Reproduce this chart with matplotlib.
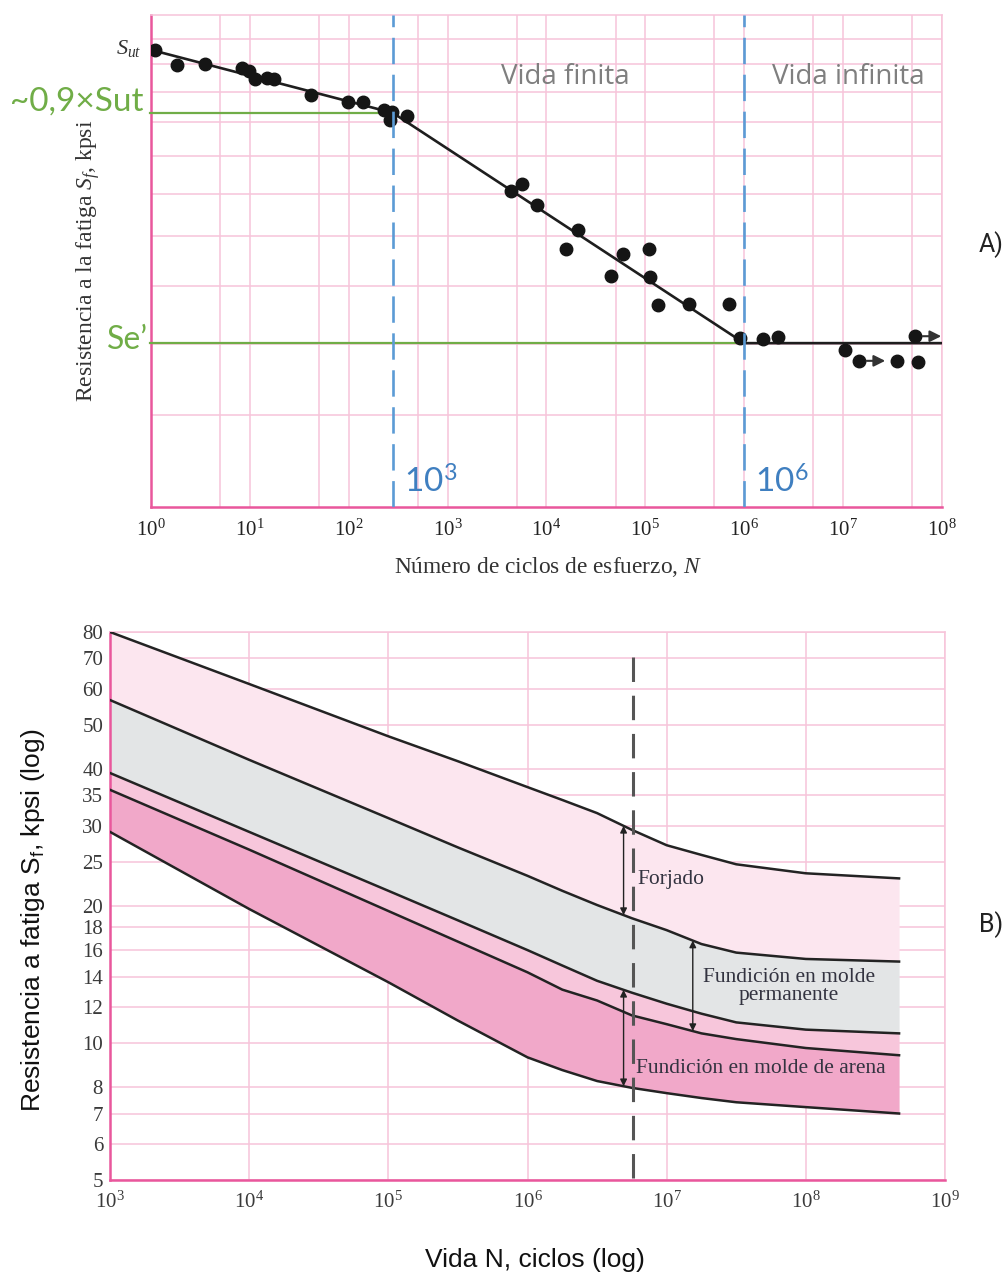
import numpy as np
import matplotlib
matplotlib.use("Agg")
import matplotlib.pyplot as plt
from matplotlib.ticker import LogFormatterMathtext, NullFormatter, FixedLocator
from matplotlib.transforms import blended_transform_factory

plt.rcParams["mathtext.fontset"] = "custom"
plt.rcParams["mathtext.rm"] = "Liberation Serif"
plt.rcParams["mathtext.it"] = "Liberation Serif:italic"
plt.rcParams["mathtext.default"] = "regular"

# ── A) ensayos S-N (kpsi; el eje y no lleva valores en el original) ──
ensayo_N = [1.1, 1.83, 3.52, 8.3, 9.8, 11.3, 14.9, 17.5, 41.5, 98, 139, 227, 261, 273, 388,
            4365, 5640, 8000, 20750, 15700, 59200, 108000, 44800, 111000, 134000, 275000, 698000,
            903000, 1.54e6, 2.19e6, 1.04e7, 1.44e7, 3.49e7, 5.69e7, 5.31e7]
ensayo_S = [125.5, 119.7, 120.1, 118.6, 117.4, 114.5, 114.9, 114.5, 109.0, 106.6, 106.6, 103.9, 100.7, 103.3, 102.0,
            80.7, 82.5, 77.2, 71.4, 67.3, 66.2, 67.3, 61.8, 61.6, 56.4, 56.6, 56.6,
            50.9, 50.7, 51.1, 49.0, 47.4, 47.4, 47.2, 51.2]
sin_falla = [31, 33, 34]          # índices con flecha (no fallaron)
curva_N = [1, 280, 1e6, 1e8]
curva_S = [125.5, 103.0, 50.1, 50.1]
S_ut, S_09, S_e = 125.5, 103.0, 50.1
N_finita, N_infinita = 280, 1e6
gridA_y = [40, 50, 60, 70, 80, 90, 100, 110, 120, 130]

# ── B) bandas de fatiga por proceso ──
vida_exp = [3, 4, 5, 5.5, 6, 6.25, 6.5, 6.75, 7, 7.25, 7.5, 8, 8.67]
forjado_sup = [80, 61.5, 47.2, 41.6, 36.5, 34.2, 32.0, 29.4, 27.2, 25.9, 24.7, 23.6, 23.0]
forjado_inf = [56.7, 41.9, 31.2, 26.9, 23.3, 21.6, 20.1, 18.8, 17.7, 16.5, 15.8, 15.3, 15.1]
permanente_inf = [39.2, 29.1, 21.6, 18.6, 16.0, 14.8, 13.7, 12.9, 12.2, 11.6, 11.1, 10.7, 10.5]
arena_sup = [36.0, 26.6, 19.5, 16.7, 14.3, 13.1, 12.4, 11.5, 11.0, 10.5, 10.2, 9.75, 9.4]
arena_inf = [29.1, 19.7, 13.6, 11.2, 9.3, 8.72, 8.25, 7.97, 7.76, 7.57, 7.41, 7.23, 7.0]
yticksB = [5, 6, 7, 8, 10, 12, 14, 16, 18, 20, 25, 30, 35, 40, 50, 60, 70, 80]
N_guia = 5.7e6
N_flecha_izq, N_flecha_der = 4.9e6, 1.54e7

GRID = "#f7c4da"
EJE = "#e9579c"
SERIF = ["Liberation Serif", "DejaVu Serif"]
SANS = ["Liberation Sans", "DejaVu Sans"]
VERDE = "#70ad47"
AZUL = "#5b9bd5"

fig = plt.figure(figsize=(10.05, 12.75), dpi=100)

# ================= A =================
ax = fig.add_axes([0.1502, 0.6024, 0.7871, 0.3859])
ax.set_xscale("log"); ax.set_yscale("log")
ax.set_xlim(1, 1e8); ax.set_ylim(30, 140)
ax.xaxis.set_major_locator(FixedLocator([10.0 ** k for k in range(9)]))
ax.xaxis.set_major_formatter(LogFormatterMathtext())
ax.xaxis.set_minor_locator(FixedLocator([5 * 10.0 ** k for k in range(8)]))
ax.xaxis.set_minor_formatter(NullFormatter())
ax.yaxis.set_major_locator(FixedLocator(gridA_y))
ax.yaxis.set_minor_locator(FixedLocator([]))
ax.yaxis.set_major_formatter(NullFormatter())
ax.tick_params(which="both", length=0)
ax.tick_params(axis="x", pad=9, labelsize=15, labelcolor="#222222", labelfontfamily="Liberation Serif")
ax.grid(True, which="both", color=GRID, lw=1.1)
ax.set_axisbelow(True)
for s in ("top", "right"):
    ax.spines[s].set_color(GRID); ax.spines[s].set_linewidth(1.1)
for s in ("left", "bottom"):
    ax.spines[s].set_color(EJE); ax.spines[s].set_linewidth(1.8)

ax.plot([0.97, N_finita], [S_09, S_09], color=VERDE, lw=1.6, zorder=3, clip_on=False)
ax.plot([0.97, N_infinita], [S_e, S_e], color=VERDE, lw=1.6, zorder=3, clip_on=False)
ax.plot(curva_N, curva_S, color="#1e1e1e", lw=1.9, zorder=4)
ax.plot(ensayo_N, ensayo_S, "o", color="#151515", ms=9, zorder=5)
for i in sin_falla:
    ax.annotate("", xy=(ensayo_N[i] * 1.85, ensayo_S[i]), xytext=(ensayo_N[i] * 1.2, ensayo_S[i]),
                arrowprops=dict(arrowstyle="-|>", color="#333333", lw=1.5, mutation_scale=17,
                                shrinkA=0, shrinkB=0), zorder=5)
for xv in (N_finita, N_infinita):
    ax.axvline(xv, color=AZUL, lw=1.9, ls=(0, (10, 4)), zorder=6)

bt = blended_transform_factory(ax.transData, ax.transAxes)
ax.text(10 ** 4.19, 0.874, "Vida finita", transform=bt, ha="center", va="center",
        fontsize=20, color="#7f7f7f", family=["Open Sans", "DejaVu Sans"])
ax.text(10 ** 7.05, 0.874, "Vida infinita", transform=bt, ha="center", va="center",
        fontsize=20, color="#7f7f7f", family=["Open Sans", "DejaVu Sans"])
for xv, lab in ((N_finita, "10$^{3}$"), (N_infinita, "10$^{6}$")):
    ax.annotate(lab, xy=(xv, 0.05), xycoords=bt, xytext=(8, 0), textcoords="offset points",
                ha="left", va="center", fontsize=24, color="#3f7fc0", family=["Lato", "DejaVu Sans"])

lt = blended_transform_factory(ax.transAxes, ax.transData)
ax.text(-0.01, S_09 * 1.008, "~0,9×Sut", transform=lt, ha="right", va="baseline",
        fontsize=24, color=VERDE, family=["Lato", "DejaVu Sans"])
ax.text(-0.004, S_e * 1.01, "Se’", transform=lt, ha="right", va="center",
        fontsize=23, color=VERDE, family=["Lato", "DejaVu Sans"])
ax.text(-0.012, 126, r"$\mathit{S_{ut}}$", transform=lt, ha="right", va="center",
        fontsize=16, color="#333333", family=SERIF)

fig.text(88 / 1005, 1 - 261 / 1275, r"Resistencia a la fatiga $\mathit{S_f}$, kpsi", rotation=90,
         ha="center", va="center", fontsize=17, color="#333333", family=SERIF)
fig.text(548 / 1005, 1 - 567 / 1275, r"Número de ciclos de esfuerzo, $\mathit{N}$",
         ha="center", va="center", fontsize=16.8, color="#333333", family=SERIF)
fig.text(991 / 1005, 1 - 245 / 1275, "A)", ha="center", va="center", fontsize=18,
         color="#222222", family=["Roboto", "DejaVu Sans"])

# ================= B =================
bx = fig.add_axes([0.1095, 0.0745, 0.8308, 0.4298])
bx.set_xscale("log"); bx.set_yscale("log")
bx.set_xlim(1e3, 1e9); bx.set_ylim(5, 80)
bx.xaxis.set_major_locator(FixedLocator([10.0 ** k for k in range(3, 10)]))
bx.xaxis.set_major_formatter(LogFormatterMathtext())
bx.xaxis.set_minor_locator(FixedLocator([]))
bx.yaxis.set_major_locator(FixedLocator(yticksB))
bx.yaxis.set_major_formatter(plt.FuncFormatter(lambda v, p: f"{v:g}"))
bx.yaxis.set_minor_locator(FixedLocator([]))
bx.tick_params(which="both", length=0, labelsize=15, labelcolor="#3a3a3a", labelfontfamily="Liberation Serif")
bx.tick_params(axis="x", pad=8)
bx.tick_params(axis="y", pad=5)
bx.grid(True, which="major", color=GRID, lw=1.1)
bx.set_axisbelow(True)
for s in ("top", "right"):
    bx.spines[s].set_color(GRID); bx.spines[s].set_linewidth(1.1)
for s in ("left", "bottom"):
    bx.spines[s].set_color(EJE); bx.spines[s].set_linewidth(1.8)

vida_N = [10.0 ** e for e in vida_exp]
bx.fill_between(vida_N, forjado_inf, forjado_sup, color="#fce6ef", lw=0, zorder=2)
bx.fill_between(vida_N, permanente_inf, forjado_inf, color="#e3e5e6", lw=0, zorder=2)
bx.fill_between(vida_N, arena_sup, permanente_inf, color="#f7c6db", lw=0, zorder=2)
bx.fill_between(vida_N, arena_inf, arena_sup, color="#f1a8c9", lw=0, zorder=2)
for curva in (forjado_sup, forjado_inf, permanente_inf, arena_sup, arena_inf):
    bx.plot(vida_N, curva, color="#232323", lw=1.8, zorder=3, solid_joinstyle="round")

bx.axvline(N_guia, ymin=0.004, ymax=0.955, color="#555555", lw=2.2, ls=(0, (8, 4.5)), zorder=4)


def en_curva(n, curva):
    return 10 ** np.interp(np.log10(n), vida_exp, np.log10(curva))


def cota(n, c_sup, c_inf):
    bx.annotate("", xy=(n, en_curva(n, c_inf)), xytext=(n, en_curva(n, c_sup)),
                arrowprops=dict(arrowstyle="<|-|>", color="#222222", lw=1.0, mutation_scale=10,
                                shrinkA=0, shrinkB=0), zorder=5)


cota(N_flecha_izq, forjado_sup, forjado_inf)
cota(N_flecha_der, forjado_inf, arena_sup)
cota(N_flecha_izq, permanente_inf, arena_inf)

bx.text(10 ** 6.79, 22.9, "Forjado", ha="left", va="center", fontsize=15.5, color="#333340", family=SERIF, zorder=6)
bx.text(10 ** 7.88, 13.3, "Fundición en molde\npermanente", ha="center", va="center", fontsize=15.5,
        color="#333340", family=SERIF, linespacing=0.95, zorder=6)
bx.text(10 ** 6.78, 8.77, "Fundición en molde de arena", ha="left", va="center", fontsize=15.5,
        color="#333340", family=SERIF, zorder=6)

fig.text(33 / 1005, 1 - 920 / 1275, "Resistencia a fatiga S$_{f}$, kpsi (log)", rotation=90,
         ha="center", va="center", fontsize=19, color="#111111", family=SANS)
fig.text(535 / 1005, 1 - 1260 / 1275, "Vida N, ciclos (log)", ha="center", va="center",
         fontsize=19, color="#111111", family=SANS)
fig.text(991 / 1005, 1 - 925 / 1275, "B)", ha="center", va="center", fontsize=18,
         color="#222222", family=["Roboto", "DejaVu Sans"])

fig.savefig("out.png", dpi=100)
